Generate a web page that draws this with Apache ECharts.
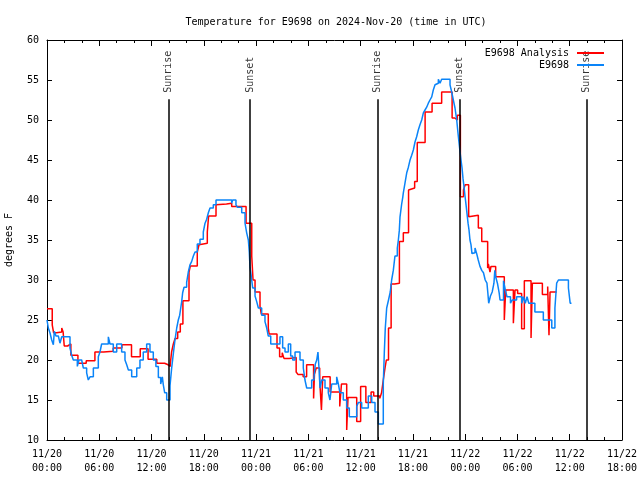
<!DOCTYPE html>
<html><head><meta charset="utf-8">
<script src="https://cdn.jsdelivr.net/npm/echarts@6/dist/echarts.min.js"></script>
<style>html,body{margin:0;padding:0;background:#fff}#c{width:640px;height:480px}</style>
</head><body><div id="c"></div>
<script>
const titleText = 'Temperature for E9698 on 2024-Nov-20 (time in UTC)';
const seriesNames = ['E9698 Analysis', 'E9698'];
const yAxisName = 'degrees F';
const monthLabel = '11';
const startDay = 20;
const xMin = 0, xMax = 66, xStep = 6;
const yMin = 10, yMax = 60, yStep = 5;

// hours since 11/20 00:00 UTC
const anaHours = [0,0.6,0.76,1.1,1.69,1.85,1.98,2.36,2.74,3.55,
  4.5,5.5,6.5,7.6,8.6,9.7,10.7,11.6,12.6,13.5,
  13.9,14.15,14.3,14.5,14.7,15.0,15.3,15.6,16.3,16.45,
  17.25,17.45,17.6,18.4,18.55,19.4,19.6,20.6,21.2,22.85,
  23.5,23.65,23.88,24.45,24.6,25.4,25.5,26.4,26.7,27.0,
  27.2,27.8,28.6,28.8,29.4,29.8,30.6,30.7,30.9,31.3,
  31.5,31.65,32.5,33.6,33.8,34.4,34.55,35.55,36.0,36.6,
  37.2,37.5,38.2,38.4,38.6,38.8,38.95,39.2,39.5,39.9,
  40.45,40.9,41.5,41.7,42.2,42.5,43.4,44.2,45.3,46.5,
  46.8,47.1,47.45,47.8,48.0,48.4,48.6,49.51,49.9,50.58,
  50.66,50.85,50.96,51.5,52.49,52.65,53.53,53.72,54.02,54.48,
  54.79,55.56,55.71,56.86,57.47,57.62,57.74,58.5];
const anaTemps = [26.4,24.4,23.4,23.5,24.0,23.5,21.75,22.0,20.6,19.6,
  19.9,21.0,21.1,21.5,21.9,20.4,21.4,20.1,19.6,19.4,
  19.2,19.5,21.0,22.0,22.7,23.5,24.5,27.4,31.0,31.75,
  33.5,34.4,34.6,36.0,38.0,39.4,39.5,39.6,39.2,37.1,
  33.0,30.0,28.5,26.7,25.75,24.0,23.25,21.5,20.4,20.9,
  20.2,20.3,18.5,18.2,17.9,19.4,15.2,18.2,19.0,17.5,
  13.75,17.9,16.0,14.2,17.0,11.25,15.3,12.3,16.7,14.7,
  16.0,15.5,15.2,15.9,17.5,19.0,20.0,24.0,29.5,29.6,
  34.8,35.9,41.25,41.5,42.3,47.2,51.0,52.1,53.5,50.25,
  50.0,50.6,40.4,41.25,41.9,37.9,38.1,36.5,34.8,31.5,
  32.0,31.0,31.7,30.4,25.0,28.75,24.6,28.75,28.3,23.9,
  29.9,22.75,29.6,28.2,29.2,23.1,28.5,28.5];

const obsHours = [0.0,0.15,0.34,0.54,0.73,0.84,1.03,1.3,1.49,1.69,
  2.64,2.83,3.02,3.48,3.67,3.98,4.17,4.55,4.74,4.94,
  5.32,5.89,6.08,6.27,7.04,7.23,7.61,8.0,8.57,8.95,
  9.15,9.34,9.72,10.3,10.67,11.05,11.44,11.82,12.2,12.5,
  12.78,13.05,13.24,13.35,13.51,13.74,14.12,14.31,14.5,14.69,
  14.89,15.07,15.23,15.35,15.46,15.57,15.73,16.03,16.22,16.41,
  16.6,16.8,16.99,17.25,17.56,17.94,18.14,18.33,18.52,18.71,
  19.09,19.4,21.2,21.31,21.69,21.85,22.35,22.73,22.92,23.11,
  23.22,23.3,23.42,23.61,23.88,24.07,24.26,24.64,25.02,25.22,
  25.4,25.68,26.74,27.05,27.32,27.7,27.97,28.2,28.47,29.04,
  29.42,29.61,29.81,30.38,30.65,30.8,30.96,31.1,31.22,31.34,
  31.53,31.91,32.29,32.48,32.68,33.25,33.44,33.63,34.01,34.4,
  34.7,35.55,35.74,36.12,36.88,37.27,37.65,38.03,38.6,38.72,
  38.83,38.99,39.2,39.4,39.56,39.75,39.94,40.21,40.33,40.44,
  40.52,40.71,40.83,40.9,41.09,41.29,41.48,41.67,41.86,42.05,
  42.24,42.43,42.62,42.81,43.01,43.2,43.39,43.58,43.77,43.96,
  44.16,44.34,44.54,44.73,44.92,45.11,45.3,46.26,46.45,46.64,
  46.83,47.03,47.14,47.25,47.41,47.52,47.64,47.75,47.86,47.98,
  48.1,48.21,48.33,48.44,48.55,48.67,48.78,48.93,49.13,49.32,
  49.5,49.7,49.9,50.1,50.3,50.5,50.6,50.7,50.9,51.1,
  51.3,51.4,51.5,51.7,51.9,52.0,52.4,52.6,52.8,53.2,
  53.4,53.9,54.5,54.7,54.9,55.1,55.3,56.0,56.97,57.94,
  58.3,58.5,58.7,59.85,60.05,60.2];
const obsTemps = [25.0,24.0,23.4,22.5,21.9,23.6,23.0,22.9,22.1,22.9,
  21.5,20.6,20.0,19.2,20.0,19.8,19.0,18.4,17.5,17.9,
  19.0,20.4,21.0,22.0,22.9,22.0,21.0,22.0,21.0,20.0,
  19.4,18.75,17.9,19.0,20.0,21.0,22.0,21.0,20.0,19.2,
  17.8,17.0,17.9,16.9,15.9,15.0,16.8,19.0,20.8,22.5,
  24.0,25.0,25.6,26.5,27.3,28.4,29.1,29.7,31.0,31.9,
  32.3,33.0,33.5,34.5,35.1,36.0,37.1,37.6,38.4,39.0,
  39.4,40.0,39.6,40.0,39.4,39.1,38.4,37.1,35.9,35.0,
  33.5,31.6,30.7,29.0,28.0,27.3,26.5,25.6,24.8,24.0,
  23.0,22.0,22.9,21.5,21.0,22.0,20.5,20.0,21.0,20.0,
  19.0,17.5,16.5,17.5,17.9,19.5,20.0,21.0,19.0,16.5,
  17.5,16.5,15.9,15.0,17.0,17.9,17.0,15.9,15.0,14.0,
  12.9,14.2,14.7,14.0,15.5,14.7,13.5,12.0,17.0,21.0,
  24.0,26.5,27.5,28.5,30.0,31.2,33.0,34.0,35.0,36.2,
  37.9,39.5,40.3,40.9,42.1,43.4,44.1,45.0,45.6,46.25,
  47.25,47.9,48.75,49.4,50.0,50.9,51.25,51.6,52.1,52.5,
  52.9,53.75,54.4,54.6,55.1,54.6,55.1,54.4,53.5,52.5,
  51.5,50.0,48.75,47.6,46.0,45.0,44.0,42.7,41.7,40.5,
  39.4,38.3,37.1,36.25,35.0,34.4,33.3,33.4,34.0,33.3,
  32.5,31.7,31.2,30.9,30.0,29.6,28.4,27.1,28.0,28.5,
  29.6,31.2,30.4,29.6,28.4,27.5,29.9,28.8,27.9,27.1,
  27.5,27.9,27.1,27.9,27.1,27.9,27.1,26.0,25.0,24.0,
  26.5,29.6,30.0,29.0,27.1,27.1];

const sunHours = [13.92, 23.3, 37.93, 47.32, 61.95];
const sunLabels = ['Sunrise', 'Sunset', 'Sunrise', 'Sunset', 'Sunrise'];
const sunLineTop = 52.6;
const sunLabelBase = 53.4;

const FONT = 'DejaVu Sans Mono';
const pad2 = n => (n < 10 ? '0' : '') + n;
function xLabel(v) {
  const day = startDay + Math.floor(v / 24);
  const hh = Math.round(v % 24);
  return monthLabel + '/' + day + '\n' + pad2(hh) + ':00';
}
const black = '#000';
function xAxisDef(pos, showLabel) {
  return {
    type: 'value', position: pos, min: xMin, max: xMax, interval: xStep,
    axisLine: { show: true, onZero: false, lineStyle: { color: black, width: 1 } },
    axisTick: { show: true, inside: true, length: 6, lineStyle: { color: black, width: 1 } },
    minorTick: { show: true, splitNumber: 3, length: 3, lineStyle: { color: black, width: 1 } },
    splitLine: { show: false }, minorSplitLine: { show: false },
    axisLabel: { show: showLabel, formatter: xLabel, fontFamily: FONT, fontSize: 10, color: black, lineHeight: 14, margin: 7 }
  };
}
function yAxisDef(pos, showLabel) {
  const a = {
    type: 'value', position: pos, min: yMin, max: yMax, interval: yStep,
    axisLine: { show: true, onZero: false, lineStyle: { color: black, width: 1 } },
    axisTick: { show: true, inside: true, length: 5, lineStyle: { color: black, width: 1 } },
    splitLine: { show: false },
    axisLabel: { show: showLabel, fontFamily: FONT, fontSize: 10, color: black, margin: 8 }
  };
  if (showLabel) {
    a.name = yAxisName; a.nameLocation = 'middle'; a.nameRotate = 90; a.nameGap = 33;
    a.nameTextStyle = { fontFamily: FONT, fontSize: 10, color: black };
  }
  return a;
}

const chart = echarts.init(document.getElementById('c'), null, { renderer: 'canvas' });
chart.setOption({
  animation: false,
  backgroundColor: '#fff',
  textStyle: { fontFamily: FONT, color: black },
  title: {
    text: titleText, left: 331, top: 12, textAlign: 'center',
    textStyle: { fontFamily: FONT, fontSize: 10, fontWeight: 'normal', color: black }
  },
  legend: {
    data: seriesNames, orient: 'vertical', right: 31, top: 43, align: 'right',
    icon: 'rect', itemWidth: 27, itemHeight: 2, itemGap: 2, selectedMode: false,
    textStyle: { fontFamily: FONT, fontSize: 10, color: black, padding: [0, 3, 0, 0] }
  },
  grid: { left: 47, right: 18, top: 40, bottom: 40, containLabel: false, outerBoundsMode: 'none' },
  xAxis: [xAxisDef('bottom', true), xAxisDef('top', false)],
  yAxis: [yAxisDef('left', true), yAxisDef('right', false)],
  series: [
    {
      name: seriesNames[0], type: 'line', step: 'end', symbol: 'none', showSymbol: false,
      data: anaHours.map((h, i) => [h, anaTemps[i]]),
      lineStyle: { color: '#ff0000', width: 1.5 }, itemStyle: { color: '#ff0000' }, z: 3
    },
    {
      name: seriesNames[1], type: 'line', step: 'end', symbol: 'none', showSymbol: false,
      data: obsHours.map((h, i) => [h, obsTemps[i]]),
      lineStyle: { color: '#0a84f8', width: 1.5 }, itemStyle: { color: '#0a84f8' }, z: 4
    },
    {
      name: 'sun', type: 'scatter', symbolSize: 0, silent: true,
      data: sunHours.map((h, i) => [h, sunLabelBase, sunLabels[i]]),
      label: {
        show: true, formatter: p => p.value[2], rotate: 90, position: 'inside',
        align: 'left', verticalAlign: 'middle', fontFamily: FONT, fontSize: 10, color: black
      },
      markLine: {
        silent: true, symbol: ['none', 'none'], label: { show: false },
        lineStyle: { color: black, width: 1.5, type: 'solid' },
        data: sunHours.map(h => [{ coord: [h, yMin] }, { coord: [h, sunLineTop] }])
      },
      z: 2
    }
  ]
});
</script></body></html>
